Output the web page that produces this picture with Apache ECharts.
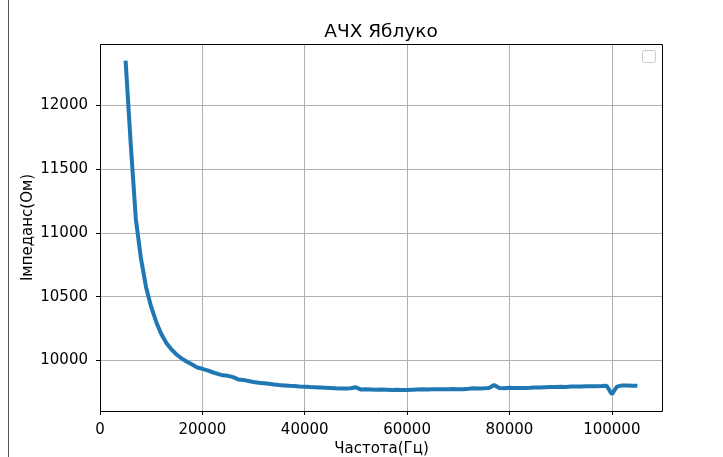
<!DOCTYPE html>
<html>
<head>
<meta charset="utf-8">
<script src="https://cdn.jsdelivr.net/npm/echarts@6/dist/echarts.min.js"></script>
<style>
html,body{margin:0;padding:0;background:#fff;}
#chart{width:723px;height:457px;}
</style>
</head>
<body>
<div id="chart"></div>
<script>
const titleText = 'АЧХ Яблуко';
const xName = 'Частота(Гц)';
const yName = 'Імпеданс(Ом)';
const xTicks = [0, 20000, 40000, 60000, 80000, 100000];
const yTicks = [10000, 10500, 11000, 11500, 12000];

const freq = [
  5000, 6000, 7000, 8000, 9000, 10000, 11000, 12000, 13000, 14000,
  15000, 16000, 17000, 18000, 19000, 20000, 21000, 22000, 23000, 24000,
  25000, 26000, 27000, 28000, 29000, 30000, 31000, 32000, 33000, 34000,
  35000, 36000, 37000, 38000, 39000, 40000, 41000, 42000, 43000, 44000,
  45000, 46000, 47000, 48000, 49000, 50000, 51000, 52000, 53000, 54000,
  55000, 56000, 57000, 58000, 59000, 60000, 61000, 62000, 63000, 64000,
  65000, 66000, 67000, 68000, 69000, 70000, 71000, 72000, 73000, 74000,
  75000, 76000, 77000, 78000, 79000, 80000, 81000, 82000, 83000, 84000,
  85000, 86000, 87000, 88000, 89000, 90000, 91000, 92000, 93000, 94000,
  95000, 96000, 97000, 98000, 99000, 100000, 101000, 102000, 103000, 104000,
  105000
];
const impedance = [
  12350, 11700, 11110, 10800, 10575, 10420, 10300, 10205, 10135, 10085,
  10045, 10015, 9990, 9968, 9945, 9935, 9922, 9908, 9895, 9884,
  9880, 9870, 9852, 9848, 9840, 9832, 9826, 9822, 9818, 9812,
  9808, 9805, 9802, 9800, 9797, 9795, 9792, 9790, 9788, 9786,
  9784, 9782, 9781, 9780, 9782, 9790, 9772, 9774, 9772, 9770,
  9772, 9771, 9768, 9770, 9768, 9768, 9770, 9772, 9774, 9773,
  9775, 9775, 9774, 9774, 9776, 9775, 9775, 9778, 9782, 9780,
  9782, 9785, 9808, 9784, 9782, 9786, 9784, 9785, 9785, 9786,
  9788, 9788, 9790, 9792, 9793, 9795, 9792, 9796, 9797, 9797,
  9798, 9799, 9799, 9800, 9802, 9735, 9795, 9805, 9805, 9803,
  9802
];

const seriesData = freq.map((f, i) => [f, impedance[i]]);
const yMinData = Math.min(...impedance), yMaxData = Math.max(...impedance);
const yPad = (yMaxData - yMinData) * 0.05;

const FONT = 'DejaVu Sans';
const fmt = v => String(v);
const chart = echarts.init(document.getElementById('chart'), null, {renderer: 'canvas'});
chart.setOption({
  animation: false,
  backgroundColor: '#ffffff',
  title: {
    text: titleText, left: 376, top: 18, textAlign: 'center',
    textStyle: {fontFamily: FONT, fontSize: 18.5, fontWeight: 'normal', color: '#000'}
  },
  grid: {left: 100, top: 44, width: 563, height: 367, containLabel: false, outerBoundsMode: 'none'},
  xAxis: {
    type: 'value', min: 0, max: 110000,
    name: xName, nameLocation: 'middle', nameGap: 31, nameMoveOverlap: false,
    nameTextStyle: {fontFamily: FONT, fontSize: 15, color: '#000'},
    axisLine: {show: false, onZero: false},
    axisTick: {show: true, length: 4, inside: false, customValues: xTicks, lineStyle: {color: '#000'}},
    axisLabel: {customValues: xTicks, formatter: fmt, margin: 12, fontFamily: FONT, fontSize: 15, color: '#000'},
    splitLine: {show: true, lineStyle: {color: '#b0b0b0', width: 1}}
  },
  yAxis: {
    type: 'value', min: yMinData - yPad, max: yMaxData + yPad,
    name: yName, nameLocation: 'middle', nameGap: 64, nameRotate: 90, nameMoveOverlap: false,
    nameTextStyle: {fontFamily: FONT, fontSize: 15, color: '#000'},
    axisLine: {show: false, onZero: false},
    axisTick: {show: true, length: 4, inside: false, customValues: yTicks, lineStyle: {color: '#000'}},
    axisLabel: {customValues: yTicks, formatter: fmt, margin: 12, fontFamily: FONT, fontSize: 15, color: '#000'},
    splitLine: {show: true, lineStyle: {color: '#b0b0b0', width: 1}}
  },
  series: [{
    type: 'line', data: seriesData, showSymbol: false, symbol: 'none',
    lineStyle: {color: '#1f77b4', width: 4}, itemStyle: {color: '#1f77b4'},
    clip: false
  }],
  graphic: [
    {type: 'rect', z: 100, shape: {x: 100.5, y: 44.5, width: 562, height: 367},
     style: {fill: null, stroke: '#000', lineWidth: 1}},
    {type: 'rect', z: 100, shape: {x: 642.5, y: 50.5, width: 13, height: 12, r: 2},
     style: {fill: '#fff', stroke: '#cccccc', lineWidth: 1}},
    {type: 'line', z: 100, shape: {x1: 8.5, y1: 0, x2: 8.5, y2: 457},
     style: {stroke: '#555', lineWidth: 1}}
  ]
});
</script>
</body>
</html>
